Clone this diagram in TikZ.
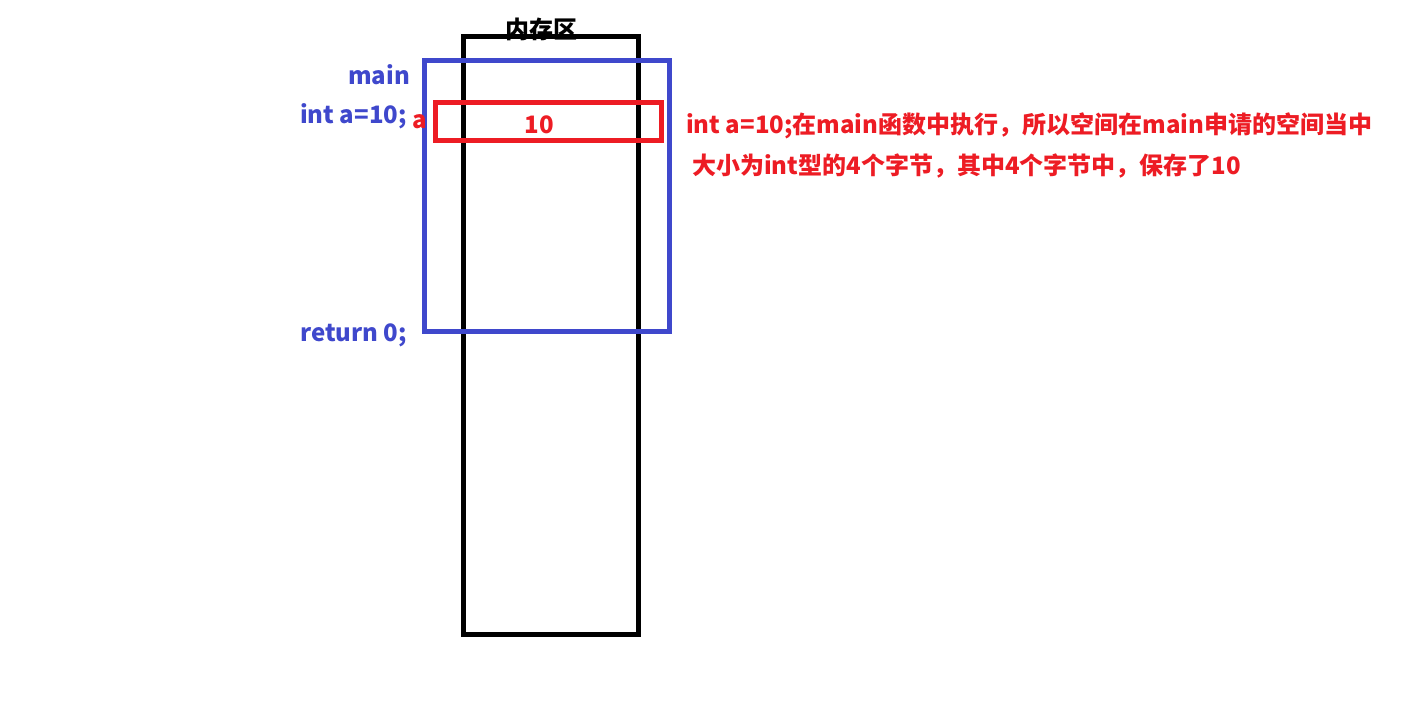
\documentclass[tikz,border=0pt]{standalone}
\usepackage{fontspec}
\setmainfont{Noto Sans CJK SC}
\definecolor{pblue}{RGB}{63,72,204}
\definecolor{pred}{RGB}{237,28,36}
\begin{document}
\begin{tikzpicture}[x=1pt,y=-1pt,
  txt/.style={inner sep=0pt,font=\fontsize{24}{28}\selectfont\bfseries},
  bluetxt/.style={txt,text=pblue},
  redtxt/.style={txt,text=pred},
  box/.style={line width=5pt}]
\useasboundingbox (0,0) rectangle (1423,702);
\node[txt,anchor=base] (title) at (541,38) {内存区};
\draw[box,black] (463.5,36) rectangle (638,634.5);
\draw[box,pblue] (424,60) rectangle (669,331);
\draw[box,pred] (435,102) rectangle (661,140);
\node[bluetxt,anchor=base east] (main) at (410,84) {main};
\node[bluetxt,anchor=base west] (inta) at (300,123) {int a=10;};
\node[redtxt,anchor=base west] (a) at (412,128) {a};
\node[redtxt,anchor=base] (ten) at (539,133) {10};
\node[bluetxt,anchor=base west] (ret) at (300,341) {return 0;};
\node[redtxt,anchor=base west] (l1) at (686,133) {int a=10;在main函数中执行，所以空间在main申请的空间当中};
\node[redtxt,anchor=base west] (l2) at (692,174) {大小为int型的4个字节，其中4个字节中，保存了10};
\end{tikzpicture}
\end{document}
